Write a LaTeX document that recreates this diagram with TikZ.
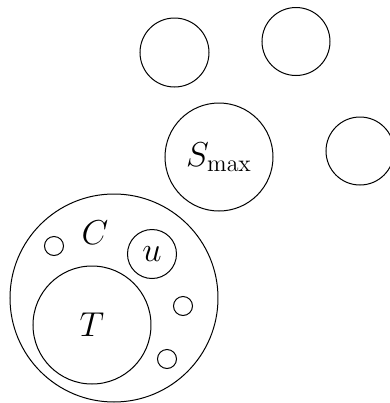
\documentclass[tikz,border=0pt]{standalone}
\begin{document}
\begin{tikzpicture}[x=0.5pt,y=-0.5pt,
  ring/.style={draw,circle,line width=0.5pt,inner sep=0pt,font=\fontsize{17}{20}\selectfont},
  lbl/.style={font=\fontsize{17}{20}\selectfont,inner sep=0pt}]
\useasboundingbox (0,0) rectangle (390,403);
\node[ring,minimum size=34.5pt] (a) at (174.5,52.5) {};
\node[ring,minimum size=34pt] (b) at (296,41.5) {};
\node[ring,minimum size=54pt] (s) at (219,157) {$S_{\max}$};
\node[ring,minimum size=34pt] (r) at (360,151) {};
\node[ring,minimum size=104pt] (c) at (114,298) {};
\node[ring,minimum size=59pt] (t) at (92,325) {$T$};
\node[ring,minimum size=24.5pt] (u) at (152,254) {$u$};
\node[ring,minimum size=9.5pt] (p1) at (54,246) {};
\node[ring,minimum size=9.5pt] (p2) at (183,306) {};
\node[ring,minimum size=9.5pt] (p3) at (167,359) {};
\node[lbl] (cl) at (95,233) {$C$};
\end{tikzpicture}
\end{document}
